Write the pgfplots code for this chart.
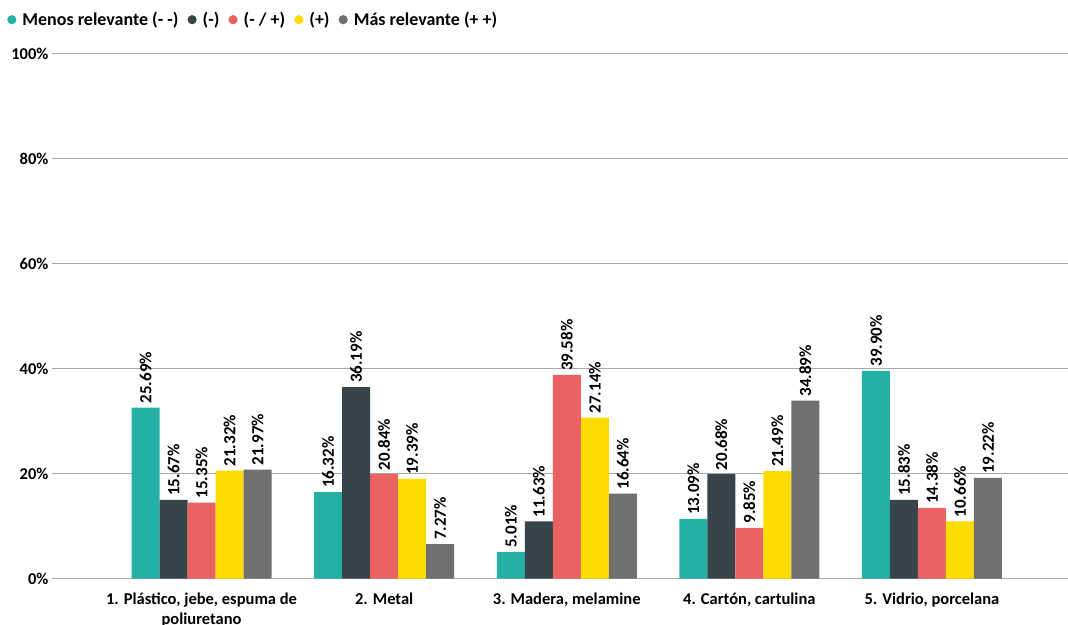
\documentclass[border=0pt]{standalone}
\usepackage{fontspec}
\setmainfont{Carlito}
\usepackage{pgfplots}
\pgfplotsset{compat=1.18}
\definecolor{cteal}{HTML}{25B0A5}
\definecolor{cdark}{HTML}{37454B}
\definecolor{cred}{HTML}{EA6262}
\definecolor{cyellow}{HTML}{FFDB00}
\definecolor{cgray}{HTML}{707070}
\definecolor{gridgray}{HTML}{A8A8A8}
\newcommand{\lblfont}{\fontsize{16.5}{20}\selectfont\bfseries}

\begin{document}
\begin{tikzpicture}
\path[use as bounding box] (0,0) rectangle (1068pt,624pt);
\begin{axis}[
    at={(52pt,45.3pt)}, anchor=south west,
    scale only axis, width=1016pt, height=525pt,
    ybar=0pt, bar width=28pt,
    xmin=-0.819, xmax=4.745, ymin=0, ymax=100,
    ytick={0,20,...,100},
    yticklabel={\pgfmathprintnumber{\tick}\%},
    ymajorgrids, grid style={color=gridgray, line width=1.3pt},
    axis line style={draw=none},
    major tick length=0pt,
    xtick={0,1,2,3,4},
    xticklabels={{1. Plástico, jebe, espuma de\\poliuretano},{2. Metal},{3. Madera, melamine},{4. Cartón, cartulina},{5. Vidrio, porcelana}},
    xticklabel style={align=center, yshift=-11pt},
    tick label style={font=\lblfont},
    /pgf/number format/assume math mode=true,
    point meta=explicit symbolic,
    nodes near coords={\pgfplotspointmeta\%},
    every node near coord/.append style={rotate=90, anchor=west, font=\fontsize{17}{20}\selectfont\bfseries, black, inner sep=4pt},
    legend columns=-1,
    legend style={at={(axis description cs:0,1)}, anchor=west, xshift=-48pt, yshift=34pt,
        draw=none, fill=none, font=\fontsize{18}{21}\selectfont\bfseries,
        /tikz/every odd column/.append style={column sep=4pt},
        /tikz/every even column/.append style={column sep=7pt}},
    legend image code/.code={\fill (4pt,0pt) circle (4.6pt);},
]
\addplot[draw=none, fill=cteal] coordinates {(0,32.6) [25.69] (1,16.5) [16.32] (2,5.1) [5.01] (3,11.4) [13.09] (4,39.6) [39.90]};
\addplot[draw=none, fill=cdark] coordinates {(0,15.0) [15.67] (1,36.5) [36.19] (2,10.9) [11.63] (3,19.9) [20.68] (4,15.0) [15.83]};
\addplot[draw=none, fill=cred] coordinates {(0,14.5) [15.35] (1,19.9) [20.84] (2,38.8) [39.58] (3,9.7) [9.85] (4,13.5) [14.38]};
\addplot[draw=none, fill=cyellow] coordinates {(0,20.6) [21.32] (1,19.0) [19.39] (2,30.7) [27.14] (3,20.5) [21.49] (4,10.9) [10.66]};
\addplot[draw=none, fill=cgray] coordinates {(0,20.8) [21.97] (1,6.6) [7.27] (2,16.2) [16.64] (3,33.9) [34.89] (4,19.2) [19.22]};
\legend{Menos relevante (- -), (-), (- / +), (+), Más relevante (+ +)}
\end{axis}
\end{tikzpicture}
\end{document}
